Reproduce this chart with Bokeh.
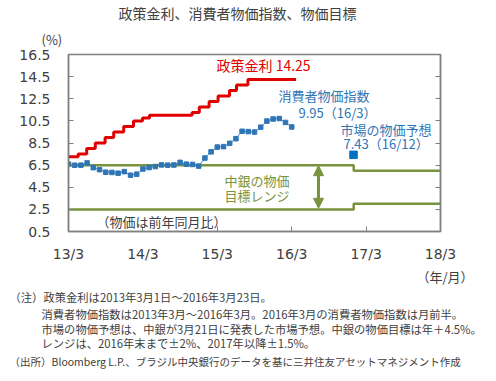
import calendar
from bokeh.plotting import figure
from bokeh.models import Label, Arrow, NormalHead, FixedTicker, LinearAxis, Range1d, Title
from bokeh.embed import file_html
from bokeh.resources import INLINE

# ---------------- data ----------------
rate_dates = ["2013-03-01", "2013-04-18", "2013-05-30", "2013-07-11", "2013-08-29",
              "2013-10-10", "2013-11-28", "2014-01-16", "2014-02-27", "2014-04-03",
              "2014-10-30", "2014-12-04", "2015-01-22", "2015-03-05", "2015-04-30",
              "2015-06-04", "2015-07-30", "2016-03-23"]
rates = [7.25, 7.50, 8.00, 8.50, 9.00, 9.50, 10.00, 10.50, 10.75, 11.00,
         11.25, 11.75, 12.25, 12.75, 13.25, 13.75, 14.25, 14.25]

cpi_start = "2013-03-01"
cpi = [6.59, 6.49, 6.50, 6.70, 6.27, 6.09, 5.86, 5.84, 5.77, 5.91,
       5.59, 5.68, 6.15, 6.28, 6.37, 6.52, 6.50, 6.51, 6.75, 6.59, 6.56, 6.41,
       7.14, 7.70, 8.13, 8.17, 8.47, 8.89, 9.56, 9.53, 9.49, 9.93, 10.48, 10.67,
       10.71, 10.36, 9.95]

band_dates = ["2013-03-01", "2017-01-01", "2018-03-01"]
band_upper = [6.5, 6.0, 6.0]
band_lower = [2.5, 3.0, 3.0]

forecast_date = "2016-12-31"
forecast = 7.43

y_ticks = [0.5, 2.5, 4.5, 6.5, 8.5, 10.5, 12.5, 14.5, 16.5]
y_tick_labels = ["0.5", "2.5", "4.5", "6.5", "8.5", "10.5", "12.5", "14.5", "16.5"]
x_ticks = [0, 12, 24, 36, 48, 60]
x_tick_labels = ["13/3", "14/3", "15/3", "16/3", "17/3", "18/3"]

title_text = "政策金利、消費者物価指数、物価目標"
notes = [
    "（注）政策金利は2013年3月1日～2016年3月23日。",
    "消費者物価指数は2013年3月～2016年3月。2016年3月の消費者物価指数は月前半。",
    "市場の物価予想は、中銀が3月21日に発表した市場予想。中銀の物価目標は年＋4.5%。",
    "レンジは、2016年末まで±2%、2017年以降±1.5%。",
    "（出所）Bloomberg L.P.、ブラジル中央銀行のデータを基に三井住友アセットマネジメント作成",
]


def m(d):
    y, mo, dd = (int(s) for s in d.split("-"))
    ndays = calendar.monthrange(y, mo)[1]
    return (y - 2013) * 12 + (mo - 3) + (dd - 1) / ndays


FL, FT, FR, FB = 68, 51, 440, 231   # frame edges in page pixels


def X(px):
    return (px - FL) / ((FR - FL) / 60)


def Y(py):
    return 0.5 + (FB - py) / ((FB - FT) / 16)


JP = "Noto Sans CJK JP"
GRAY = "#404040"
RED = "#e00000"
BLUE = "#2e75b6"
GREEN = "#77933c"

W, H = 488, 373
p = figure(width=W, height=H, x_range=Range1d(0, 60), y_range=Range1d(0.5, 16.5),
           output_backend="svg", toolbar_location=None, title=None,
           min_border_left=FL, min_border_right=W - FR, min_border_top=FT, min_border_bottom=H - FB)
p.xgrid.visible = False
p.ygrid.visible = False
p.outline_line_color = "#808080"
p.outline_line_width = 1.5

for ax in p.yaxis:
    ax.ticker = FixedTicker(ticks=y_ticks)
    ax.major_label_overrides = dict(zip(y_ticks, y_tick_labels))
    ax.major_label_standoff = 18
for ax in p.xaxis:
    ax.ticker = FixedTicker(ticks=x_ticks)
    ax.major_label_overrides = dict(zip(x_ticks, x_tick_labels))
    ax.major_label_standoff = 14
for ax in list(p.xaxis) + list(p.yaxis):
    ax.major_tick_in = 5
    ax.major_tick_out = 0
    ax.minor_tick_line_color = None
    ax.axis_line_color = "#808080"
    ax.axis_line_width = 1.5
    ax.major_tick_line_color = "#808080"
    ax.major_label_text_font = "DejaVu Sans"
    ax.major_label_text_font_size = "14px"
    ax.major_label_text_color = GRAY

rax = LinearAxis(ticker=FixedTicker(ticks=y_ticks),
                 major_label_overrides={t: "" for t in y_ticks},
                 major_tick_in=5, major_tick_out=0, minor_tick_line_color=None,
                 axis_line_color="#808080", axis_line_width=1.5,
                 major_tick_line_color="#808080", major_label_text_font_size="1px")
p.add_layout(rax, "right")

# target band
bx = [m(d) for d in band_dates]
p.step(bx, band_upper, mode="after", line_color=GREEN, line_width=2.5)
p.step(bx, band_lower, mode="after", line_color=GREEN, line_width=2.5)

# policy rate
rx = [m(d) for d in rate_dates]
p.step(rx, rates, mode="after", line_color=RED, line_width=3)

# CPI
cx = [m(cpi_start) + i for i in range(len(cpi))]
p.line(cx, cpi, line_color="#4a8fd0", line_width=1)
p.scatter(cx, cpi, marker="square", size=4.5, fill_color=BLUE, line_color=BLUE)

# forecast
p.scatter([m(forecast_date)], [forecast], marker="square", size=7.5,
          fill_color="#0070c0", line_color="#0070c0")

# range arrow
ax_x = X(318)
p.add_layout(Arrow(x_start=ax_x, y_start=band_lower[0] + 0.1, x_end=ax_x, y_end=band_upper[0] - 0.05,
                   line_color=GREEN, line_width=3,
                   start=NormalHead(size=10, fill_color=GREEN, line_color=GREEN),
                   end=NormalHead(size=10, fill_color=GREEN, line_color=GREEN)))


def label(text, px, py, size, color):
    p.add_layout(Label(x=X(px), y=Y(py), text=text, text_font=JP,
                       text_font_size=f"{size}px", text_color=color,
                       text_align="left", text_baseline="middle"))


label("政策金利 14.25", 216, 62, 14, RED)
label("消費者物価指数", 278, 93, 13, BLUE)
label("9.95（16/3）", 298, 110, 13, BLUE)
label("市場の物価予想", 340, 127, 13, BLUE)
label("7.43（16/12）", 343, 141, 13, BLUE)
label("中銀の物価", 224, 179, 13, GREEN)
label("目標レンジ", 224, 194, 13, GREEN)
label("（物価は前年同月比）", 96, 221, 13, GRAY)

HM = 5  # Title horizontal margin


def side_title(text, px, size, side, standoff=0, valign="bottom", lh=1.0):
    t = Title(text=text, align="left", offset=px - FL - HM, text_font=JP,
              text_font_size=f"{size}px", text_color=GRAY, text_font_style="normal",
              standoff=standoff, vertical_align=valign, text_line_height=lh)
    p.add_layout(t, side)


# above: nearest the frame first
side_title("(%)", 46, 13, "above", standoff=7, valign="top")
side_title(title_text, 123, 14, "above", standoff=4, valign="top")

# below: after the x axis, going outward
side_title("（年/月）", 421, 13, "below", standoff=1)
side_title(notes[0], 14, 11.3, "below")
side_title("\n".join(notes[1:4]), 46, 11.3, "below", lh=0.92)
side_title(notes[4], 14, 10.5, "below")

open("out.html", "w").write(file_html(p, INLINE))
